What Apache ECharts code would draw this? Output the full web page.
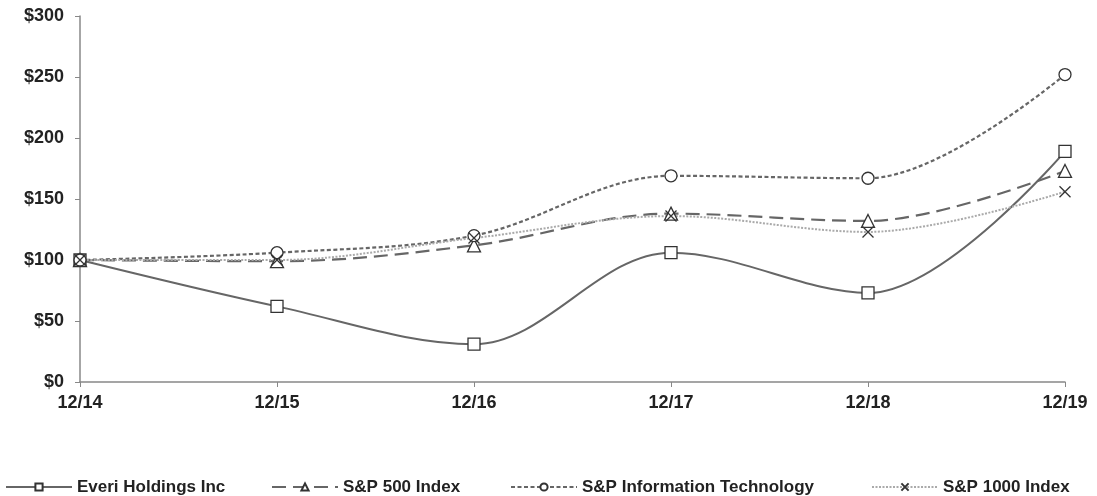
<!DOCTYPE html>
<html><head><meta charset="utf-8">
<script src="https://cdn.jsdelivr.net/npm/echarts@6/dist/echarts.min.js"></script>
<style>html,body{margin:0;padding:0;background:#fff}#c{width:1097px;height:496px}</style>
</head><body><div id="c"></div>
<script>
const categories = ['12/14','12/15','12/16','12/17','12/18','12/19'];
const everi = [100, 62, 31, 106, 73, 189];
const sp500 = [100, 99, 112, 138, 132, 173];
const spIT = [100, 106, 120, 169, 167, 252];
const sp1000 = [100, 100, 118, 136, 123, 156];
const names = ['Everi Holdings Inc','S&P 500 Index','S&P Information Technology','S&P 1000 Index'];

const font = 'Liberation Sans, Arial, sans-serif';
const chart = echarts.init(document.getElementById('c'));
const crossPath = 'path://M0,0L10,10M10,0L0,10';
function mk(name, data, color, width, type, symbol, size){
  return {
    name, type:'line', data, smooth:0.35, symbol, symbolSize:size,
    lineStyle:{color, width, type},
    itemStyle:{color: symbol===crossPath ? 'rgba(0,0,0,0)' : '#fff', borderColor:'#333', borderWidth:1.3},
    emphasis:{disabled:true}, z: 2
  };
}
const legendText = {fontFamily:font, fontWeight:'bold', fontSize:17, lineHeight:18, color:'#222'};
function lg(name, left){
  return {data:[name], left, top:478, padding:0, itemWidth:66, itemHeight:9, itemGap:0, textStyle:legendText, selectedMode:false};
}
chart.setOption({
  animation:false,
  grid:{left:80, right:32, top:16, bottom:114},
  xAxis:{type:'category', data:categories, boundaryGap:false,
    axisLine:{lineStyle:{color:'#888', width:1.5}},
    axisTick:{show:true, length:5, lineStyle:{color:'#888'}},
    axisLabel:{fontFamily:font, fontWeight:'bold', fontSize:18, color:'#222', margin:12}},
  yAxis:{type:'value', min:0, max:300, interval:50,
    axisLine:{show:true, lineStyle:{color:'#888', width:1.5}},
    axisTick:{show:true, length:5, lineStyle:{color:'#888'}},
    splitLine:{show:false},
    axisLabel:{fontFamily:font, fontWeight:'bold', fontSize:18, color:'#222', margin:16, formatter:v=>'$'+v}},
  legend:[lg(names[0], 5), lg(names[1], 271), lg(names[2], 510), lg(names[3], 871)],
  series:[
    mk(names[0], everi, '#666', 2, 'solid', 'rect', 12),
    mk(names[1], sp500, '#666', 2.2, [14,7], 'triangle', 13),
    mk(names[2], spIT, '#666', 2.2, [4,2.5], 'circle', 12),
    mk(names[3], sp1000, '#aaa', 2, [2,1.5], crossPath, 11)
  ]
});
</script></body></html>
